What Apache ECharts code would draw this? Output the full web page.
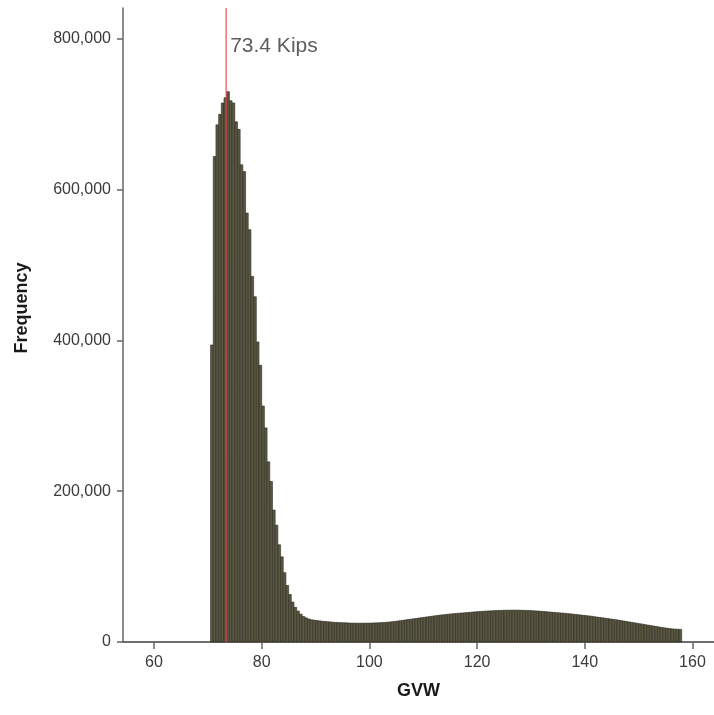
<!DOCTYPE html>
<html>
<head>
<meta charset="utf-8">
<script src="https://cdn.jsdelivr.net/npm/echarts@6/dist/echarts.min.js"></script>
<style>html,body{margin:0;padding:0;background:#fff}#c{width:714px;height:715px}</style>
</head>
<body>
<div id="c"></div>
<script>
// Histogram of GVW (kips), bins of 0.5 kip starting at 70.5
const binStart = 70.5;
const binWidth = 0.5;
const frequency = [
  394000, 644000, 686000, 700000, 715000, 722000, 730000, 718000, 715000, 690000,
  680000, 633000, 624000, 569000, 547000, 485000, 458000, 398000, 367000, 313000,
  284000, 239000, 213000, 175000, 155000, 129000, 113000, 92000, 75000, 63000,
  53000, 46000, 41000, 37000, 34000, 32000, 30500, 29500, 29000, 28500,
  28000, 27500, 27200, 26900, 26600, 26300, 26000, 25800, 25600, 25500,
  25400, 25200, 25100, 25000, 25000, 24900, 24900, 25000, 25000, 25100,
  25200, 25400, 25500, 25700, 25900, 26200, 26500, 26900, 27300, 27800,
  28300, 28800, 29300, 29800, 30300, 30800, 31300, 31800, 32300, 32800,
  33300, 33800, 34300, 34800, 35300, 35700, 36100, 36500, 36900, 37300,
  37600, 37900, 38200, 38500, 38800, 39100, 39400, 39700, 40000, 40300,
  40500, 40800, 41000, 41200, 41400, 41600, 41800, 41900, 42000, 42100,
  42200, 42200, 42300, 42300, 42200, 42100, 42000, 41900, 41700, 41500,
  41300, 41100, 40800, 40500, 40200, 39900, 39600, 39300, 39000, 38700,
  38400, 38100, 37700, 37400, 37000, 36600, 36200, 35800, 35400, 35000,
  34600, 34100, 33600, 33100, 32600, 32100, 31600, 31100, 30600, 30100,
  29600, 29000, 28400, 27800, 27200, 26600, 26000, 25400, 24800, 24200,
  23600, 23000, 22400, 21800, 21200, 20600, 20000, 19400, 18800, 18300,
  17800, 17400, 17100, 16900, 16700
];
const xTicks = [60, 80, 100, 120, 140, 160];
const yTicks = [0, 200000, 400000, 600000, 800000];
const refValue = 73.4;
const refLabel = '73.4 Kips';
const xMin = 54.24, xMax = 164.0, yMax = 841000;

const binData = frequency.map((f, i) => [binStart + i * binWidth, binStart + (i + 1) * binWidth, f]);

const chart = echarts.init(document.getElementById('c'), null, {renderer: 'canvas'});
const font = '"Liberation Sans", Arial, sans-serif';
chart.setOption({
  animation: false,
  backgroundColor: '#fff',
  grid: {left: 123, top: 8, right: 0, bottom: 73, containLabel: false},
  xAxis: [{
    type: 'value', min: xMin, max: xMax,
    name: 'GVW', nameLocation: 'middle', nameGap: 40,
    nameTextStyle: {fontFamily: font, fontWeight: 'bold', fontSize: 18, color: '#1a1a1a'},
    axisLine: {show: true, onZero: false, lineStyle: {color: '#666', width: 1.5}},
    axisTick: {show: true, customValues: xTicks, length: 7, lineStyle: {color: '#666', width: 1.5}},
    axisLabel: {customValues: xTicks, fontFamily: font, fontSize: 16, color: '#3a3a3a', margin: 13},
    splitLine: {show: false}
  }, {
    type: 'value', position: 'top', min: xMin, max: xMax,
    axisLine: {show: true, lineStyle: {color: '#666', width: 1.5}},
    axisTick: {show: false}, axisLabel: {show: false}, splitLine: {show: false}
  }],
  yAxis: {
    type: 'value', min: 0, max: yMax,
    name: 'Frequency', nameLocation: 'middle', nameGap: 92,
    nameTextStyle: {fontFamily: font, fontWeight: 'bold', fontSize: 18, color: '#1a1a1a', padding: [0, 0, 0, 34]},
    axisLine: {show: true, lineStyle: {color: '#666', width: 1.5}},
    axisTick: {show: true, customValues: yTicks, length: 6, lineStyle: {color: '#666', width: 1.5}},
    axisLabel: {customValues: yTicks, fontFamily: font, fontSize: 16, color: '#3a3a3a', margin: 12,
      formatter: v => v.toLocaleString('en-US')},
    splitLine: {show: false}
  },
  series: [{
    type: 'custom',
    data: binData,
    encode: {x: [0, 1], y: 2},
    renderItem: function (params, api) {
      const p0 = api.coord([api.value(0), api.value(2)]);
      const p1 = api.coord([api.value(1), 0]);
      return {
        type: 'rect',
        shape: {x: p0[0], y: p0[1], width: p1[0] - p0[0], height: p1[1] - p0[1]},
        style: {fill: '#5a5842', stroke: '#2b2a20', lineWidth: 0.6}
      };
    }
  }, {
    type: 'line',
    data: [[refValue, 0], [refValue, yMax]],
    symbol: 'none',
    lineStyle: {color: 'rgba(228,70,70,0.75)', width: 1.5},
    z: 5
  }, {
    type: 'scatter',
    data: [[refValue, 790000]],
    symbolSize: 0,
    label: {show: true, position: 'right', distance: 4, formatter: refLabel,
      fontFamily: font, fontSize: 21, color: '#333'},
    z: 6
  }]
});
</script>
</body>
</html>
